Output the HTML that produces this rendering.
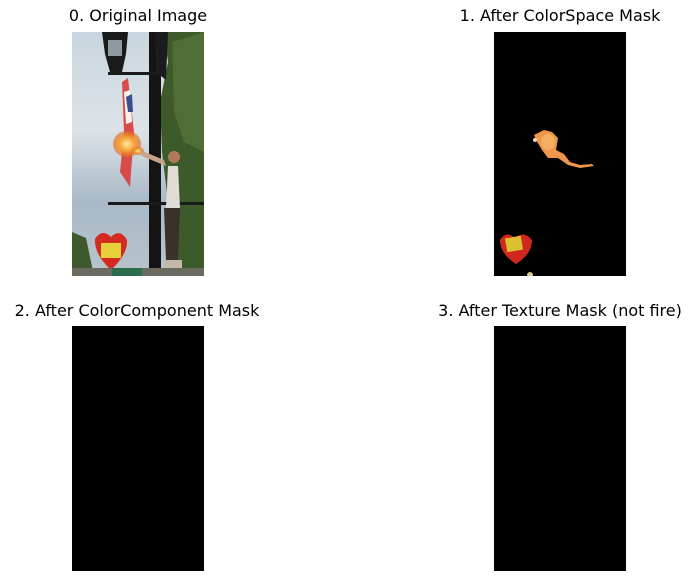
<!DOCTYPE html>
<html><head><meta charset="utf-8">
<style>
html,body{margin:0;padding:0;background:#fff;}
body{width:696px;height:581px;position:relative;overflow:hidden;font-family:"DejaVu Sans","Liberation Sans",sans-serif;}
.t{position:absolute;font-size:16px;color:#000;white-space:nowrap;transform:translateX(-50%);}
.p{position:absolute;}
</style></head><body>
<div class="t" style="left:138px;top:6px;">0. Original Image</div>
<div class="t" style="left:560px;top:6px;">1. After ColorSpace Mask</div>
<div class="t" style="left:137px;top:301px;">2. After ColorComponent Mask</div>
<div class="t" style="left:560px;top:301px;">3. After Texture Mask (not fire)</div>

<svg class="p" style="left:72px;top:32px" width="132" height="244" viewBox="0 0 132 244">
<defs><linearGradient id="sky" x1="0" y1="0" x2="0" y2="1">
<stop offset="0" stop-color="#c9d6df"/><stop offset="0.4" stop-color="#dde3e8"/><stop offset="0.7" stop-color="#a9b9c7"/><stop offset="1" stop-color="#b9c4cc"/></linearGradient>
<radialGradient id="fire"><stop offset="0" stop-color="#ffe9a0"/><stop offset="0.5" stop-color="#f7a53a"/><stop offset="1" stop-color="#e2651c" stop-opacity="0.6"/></radialGradient></defs>
<rect width="132" height="244" fill="url(#sky)"/>
<path d="M92 0 L132 0 L132 244 L100 244 L104 200 L96 170 L90 120 L88 70 L96 30 Z" fill="#3d5a2a"/>
<path d="M100 10 L132 0 L132 120 L112 110 L102 80 Z" fill="#4f6d34"/>
<path d="M0 200 L14 206 L22 244 L0 244 Z" fill="#3e5a2c"/>
<rect x="77" y="0" width="12" height="244" fill="#141414"/>
<path d="M83 0 L96 0 L94 48 L84 40 Z" fill="#1c1c1c"/>
<rect x="36" y="40" width="50" height="3" fill="#1a1a1a"/>
<path d="M30 0 L56 0 L54 22 L50 40 L38 40 L33 22 Z" fill="#1a1a1a"/>
<rect x="36" y="8" width="14" height="16" fill="#8f9aa0"/>
<rect x="36" y="170" width="96" height="3" fill="#1a1a1a"/>
<path d="M50 50 L56 46 L62 100 L58 155 L48 140 L52 100 Z" fill="#d94a4a"/>
<path d="M52 60 L58 58 L60 90 L54 92 Z" fill="#f4f0ee"/>
<path d="M54 65 L60 62 L61 80 L56 80 Z" fill="#3a4d8c"/>
<ellipse cx="55" cy="112" rx="14" ry="13" fill="url(#fire)"/>
<ellipse cx="66" cy="119" rx="6" ry="4" fill="url(#fire)"/>
<path d="M68 118 L92 128 L94 134 L70 124 Z" fill="#c8a28a"/>
<circle cx="102" cy="125" r="6" fill="#b07a5e"/>
<path d="M96 134 L106 134 L108 176 L94 176 Z" fill="#e0dcd6"/>
<path d="M92 176 L108 176 L106 228 L94 228 Z" fill="#3a3128"/>
<rect x="92" y="228" width="18" height="8" fill="#c4b8a8"/>
<path d="M23 207 Q30 196 39 205 Q48 196 55 208 Q56 222 39 238 Q22 222 23 207 Z" fill="#d42a1f"/>
<rect x="29" y="211" width="20" height="15" fill="#e6d13d"/>
<rect x="0" y="236" width="132" height="8" fill="#6a6a60"/>
<rect x="40" y="236" width="30" height="8" fill="#2a6e4e"/>
</svg>

<svg class="p" style="left:494px;top:32px" width="132" height="244" viewBox="0 0 132 244">
<rect width="132" height="244" fill="#000"/>
<path d="M40 103 L50 98 L58 100 L64 106 L62 118 L70 122 L76 130 L86 133 L98 132 L100 134 L86 136 L74 133 L64 126 L54 126 L48 118 L42 108 Z" fill="#f0964a"/>
<ellipse cx="54" cy="110" rx="7" ry="8" fill="#f4b060"/>
<circle cx="41" cy="108" r="2" fill="#f2d2b0"/>
<path d="M6 208 Q12 198 21 206 Q30 198 38 208 Q38 222 22 232 Q6 222 6 208 Z" fill="#d0281c"/>
<rect x="12" y="205" width="16" height="14" fill="#dcc032" transform="rotate(-10 20 212)"/>
<circle cx="36" cy="243" r="3" fill="#d8c890"/>
</svg>

<div class="p" style="left:72px;top:326px;width:132px;height:245px;background:#000"></div>
<div class="p" style="left:494px;top:326px;width:132px;height:245px;background:#000"></div>
</body></html>
